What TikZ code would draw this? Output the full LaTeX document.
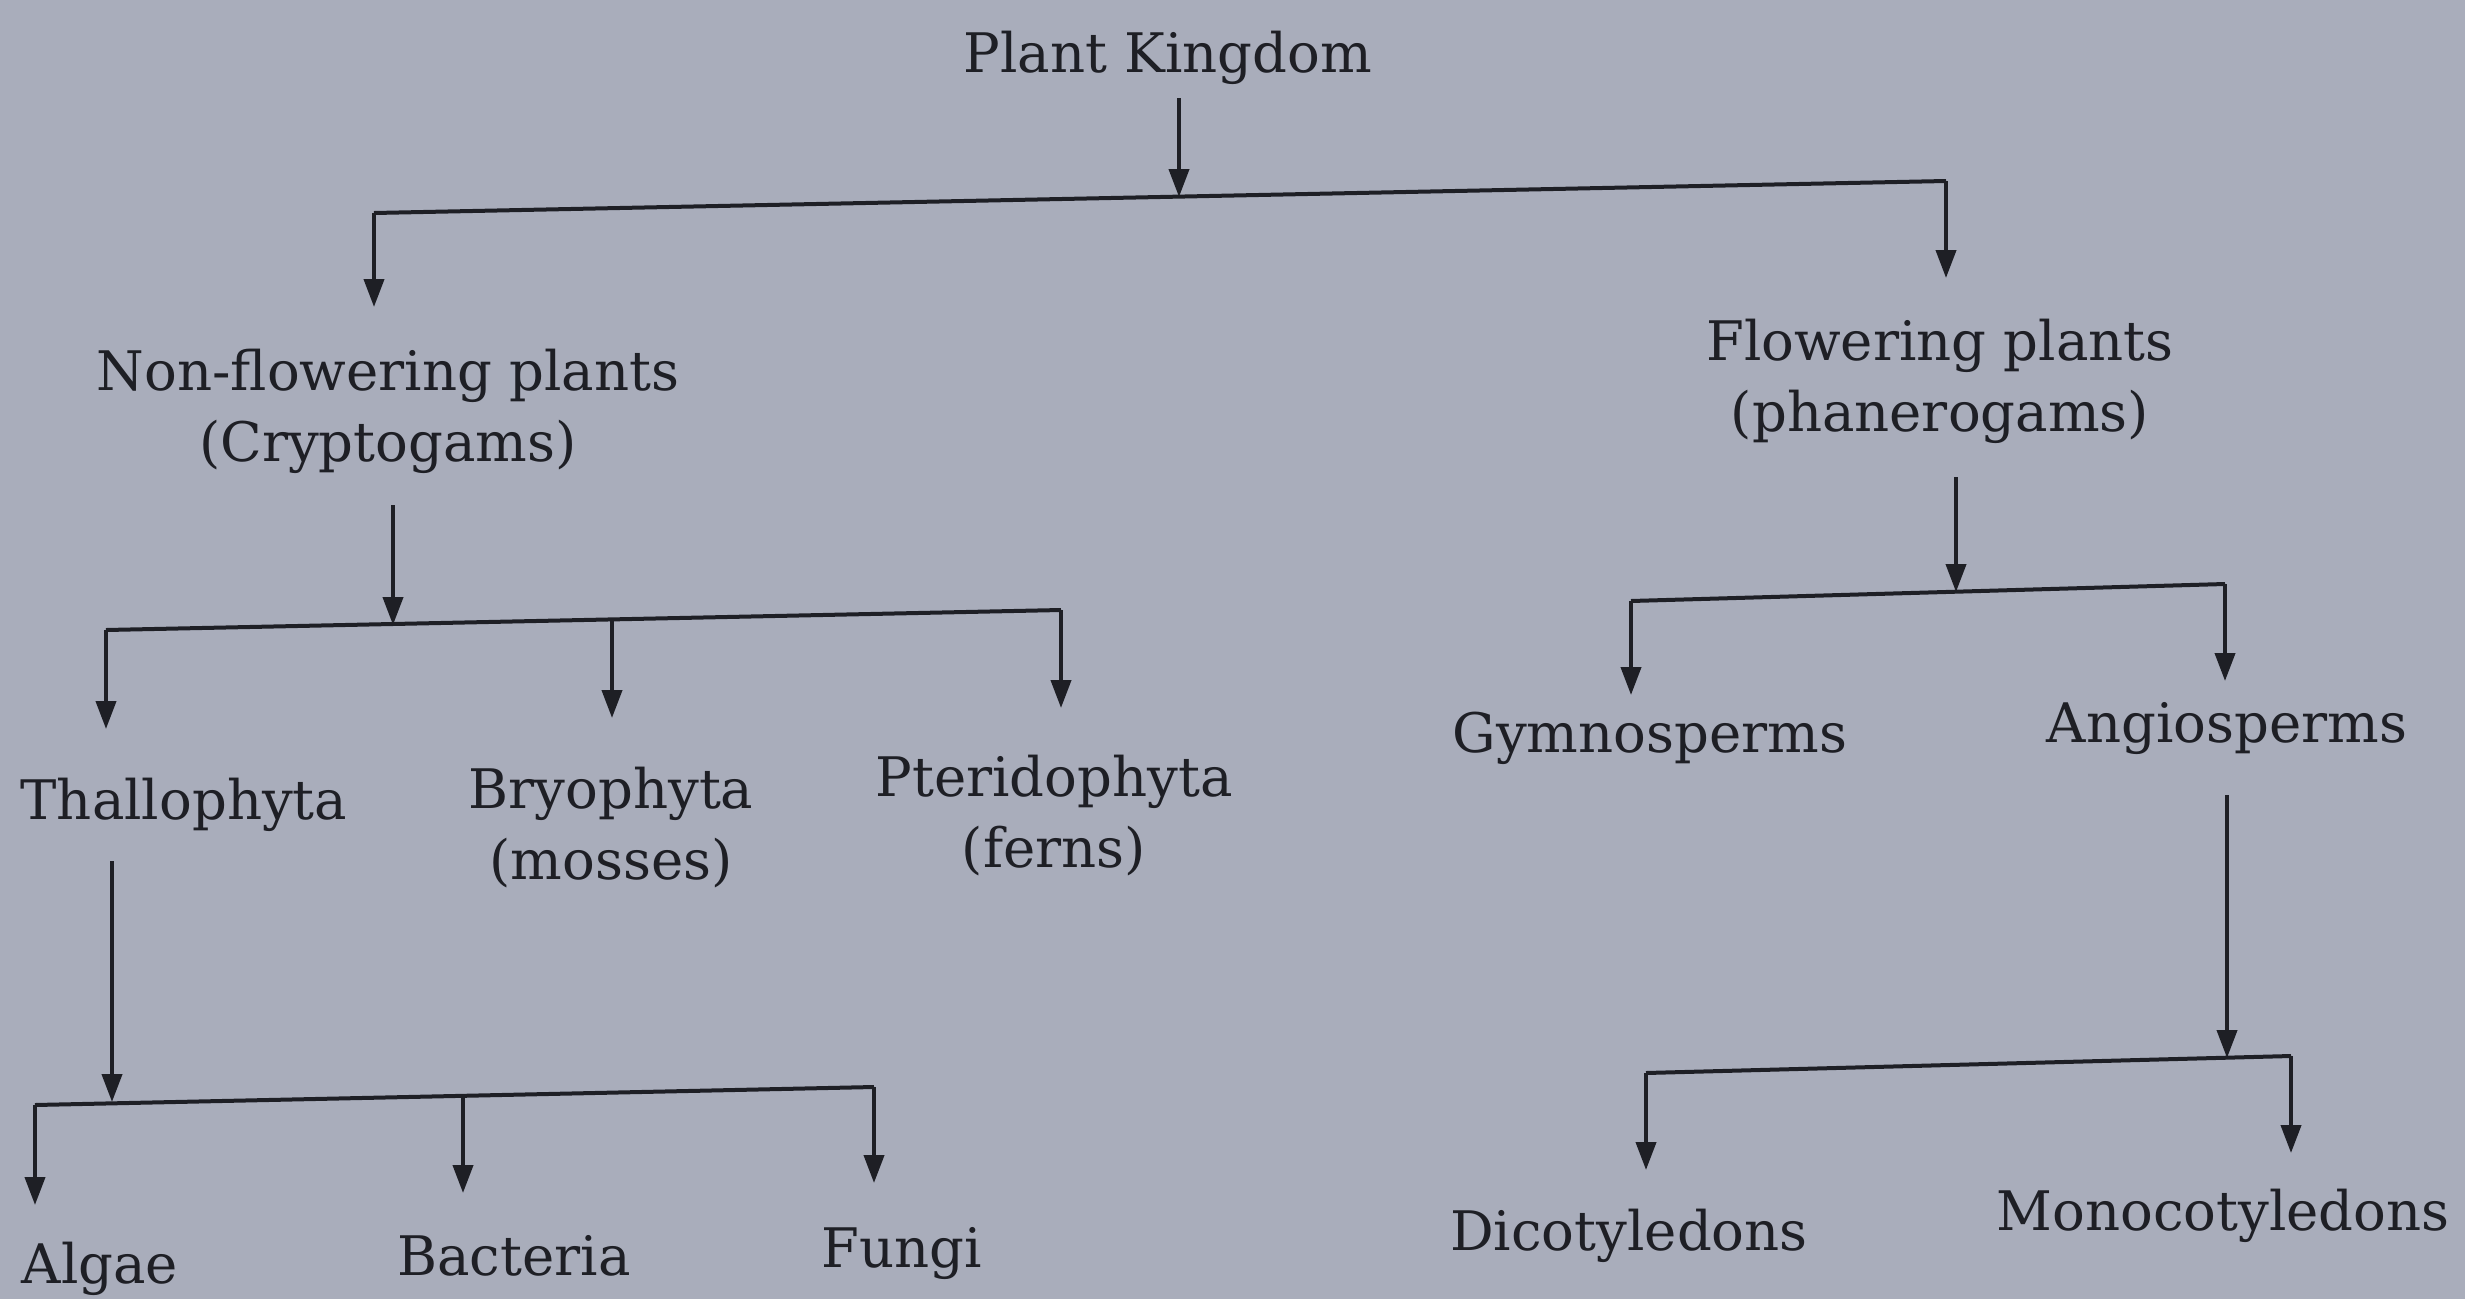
\documentclass[tikz,border=0pt]{standalone}
\usepackage{fontspec}
\setmainfont{DejaVu Serif}
\usetikzlibrary{arrows.meta}
\definecolor{bgc}{HTML}{A9ADBB}
\definecolor{ink}{HTML}{1E1F25}
\tikzset{
  lbl/.style={anchor=base, align=center, inner sep=0pt, text=ink,
    font=\fontsize{54.5}{71}\selectfont},
  conn/.style={draw=ink, line width=4pt},
  arr/.style={conn, -{Triangle[length=28pt,width=20pt]}}
}
\begin{document}
\begin{tikzpicture}[x=1pt,y=-1pt]
\fill[bgc] (0,0) rectangle (2465,1299);
\useasboundingbox (0,0) rectangle (2465,1299);

% labels (base anchor = baseline of the last line)
\node[lbl] (pk) at (1168,72) {Plant Kingdom};
\node[lbl] (nf) at (388,461) {Non-flowering plants\\(Cryptogams)};
\node[lbl] (fl) at (1940,431) {Flowering plants\\(phanerogams)};
\node[lbl] (th) at (184,819) {Thallophyta};
\node[lbl] (br) at (611,879) {Bryophyta\\(mosses)};
\node[lbl] (pt) at (1054,867) {Pteridophyta\\(ferns)};
\node[lbl] (al) at (100,1283) {Algae};
\node[lbl] (ba) at (514,1275) {Bacteria};
\node[lbl] (fu) at (902,1267) {Fungi};
\node[lbl] (gy) at (1650,752) {Gymnosperms};
\node[lbl] (an) at (2227,742) {Angiosperms};
\node[lbl] (di) at (1629,1250) {Dicotyledons};
\node[lbl] (mo) at (2223,1230) {Monocotyledons};

% level 1
\coordinate (p0) at (1179,98);
\coordinate (j0) at (1179,197);
\coordinate (b0L) at (374,213);
\coordinate (b0R) at (1946,181);
\coordinate (t0L) at (374,307);
\coordinate (t0R) at (1946,278);
\draw[arr] (p0) -- (j0);
\draw[conn] (b0L) -- (b0R);
\draw[arr] (b0L) -- (t0L);
\draw[arr] (b0R) -- (t0R);

% non-flowering
\coordinate (p1) at (393,505);
\coordinate (j1) at (393,625);
\coordinate (b1L) at (106,630);
\coordinate (b1M) at (612,619);
\coordinate (b1R) at (1061,610);
\coordinate (t1L) at (106,729);
\coordinate (t1M) at (612,718);
\coordinate (t1R) at (1061,708);
\draw[arr] (p1) -- (j1);
\draw[conn] (b1L) -- (b1R);
\draw[arr] (b1L) -- (t1L);
\draw[arr] (b1M) -- (t1M);
\draw[arr] (b1R) -- (t1R);

% thallophyta
\coordinate (p2) at (112,861);
\coordinate (j2) at (112,1102);
\coordinate (b2L) at (35,1105);
\coordinate (b2M) at (463,1096);
\coordinate (b2R) at (874,1087);
\coordinate (t2L) at (35,1205);
\coordinate (t2M) at (463,1193);
\coordinate (t2R) at (874,1183);
\draw[arr] (p2) -- (j2);
\draw[conn] (b2L) -- (b2R);
\draw[arr] (b2L) -- (t2L);
\draw[arr] (b2M) -- (t2M);
\draw[arr] (b2R) -- (t2R);

% flowering
\coordinate (p3) at (1956,477);
\coordinate (j3) at (1956,592);
\coordinate (b3L) at (1631,601);
\coordinate (b3R) at (2225,584);
\coordinate (t3L) at (1631,695);
\coordinate (t3R) at (2225,681);
\draw[arr] (p3) -- (j3);
\draw[conn] (b3L) -- (b3R);
\draw[arr] (b3L) -- (t3L);
\draw[arr] (b3R) -- (t3R);

% angiosperms
\coordinate (p4) at (2227,795);
\coordinate (j4) at (2227,1058);
\coordinate (b4L) at (1646,1073);
\coordinate (b4R) at (2291,1056);
\coordinate (t4L) at (1646,1170);
\coordinate (t4R) at (2291,1153);
\draw[arr] (p4) -- (j4);
\draw[conn] (b4L) -- (b4R);
\draw[arr] (b4L) -- (t4L);
\draw[arr] (b4R) -- (t4R);
\end{tikzpicture}
\end{document}
